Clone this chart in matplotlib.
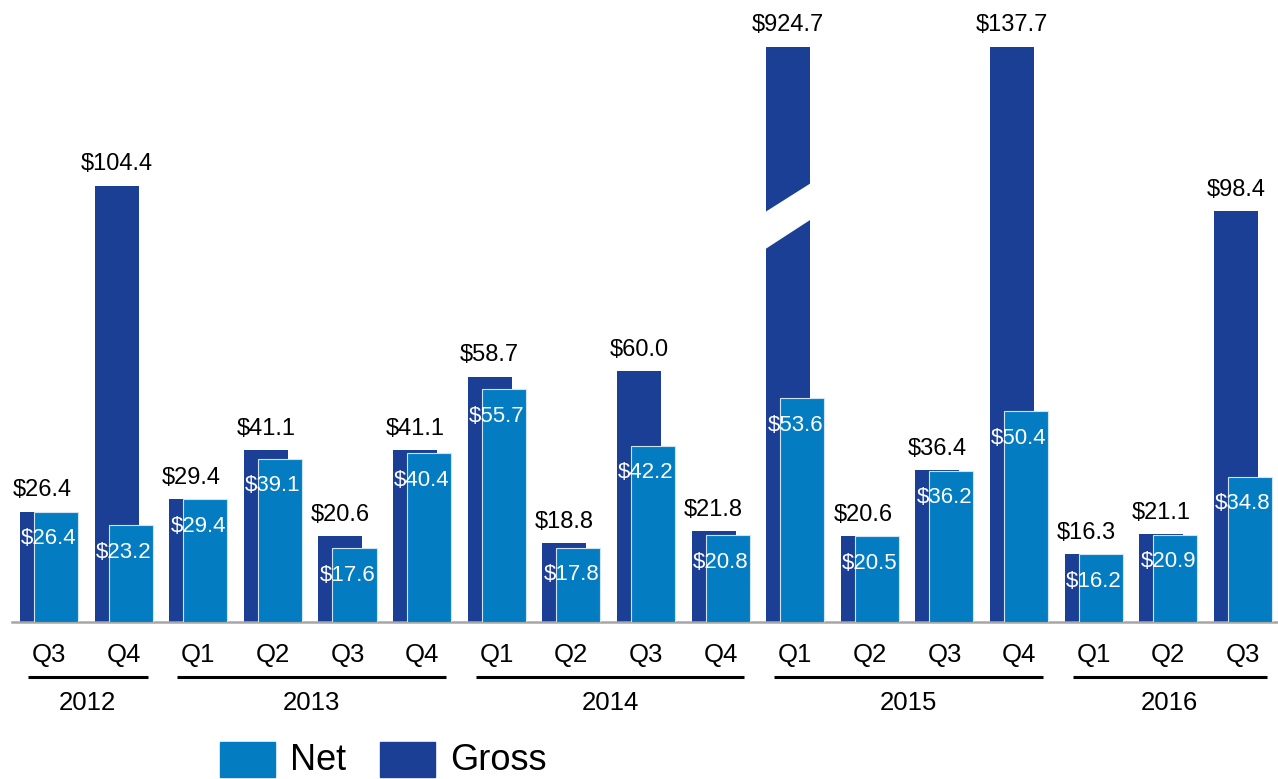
import matplotlib
matplotlib.use("Agg")
import matplotlib.pyplot as plt
from matplotlib.patches import Rectangle, Polygon
import numpy as np

plt.rcParams['font.family'] = ['Liberation Sans', 'DejaVu Sans']

# data
quarters = ['Q3', 'Q4', 'Q1', 'Q2', 'Q3', 'Q4', 'Q1', 'Q2', 'Q3', 'Q4',
            'Q1', 'Q2', 'Q3', 'Q4', 'Q1', 'Q2', 'Q3']
years = ['2012', '2013', '2014', '2015', '2016']
year_counts = [2, 4, 4, 4, 3]
gross = [26.4, 104.4, 29.4, 41.1, 20.6, 41.1, 58.7, 18.8, 60.0, 21.8,
         924.7, 20.6, 36.4, 137.7, 16.3, 21.1, 98.4]
net = [26.4, 23.2, 29.4, 39.1, 17.6, 40.4, 55.7, 17.8, 42.2, 20.8,
       53.6, 20.5, 36.2, 50.4, 16.2, 20.9, 34.8]

gross_col = '#1b3f94'
net_col = '#047cc2'
cap = 137.7   # bars above this are drawn broken

W, H = 1278, 779
fig = plt.figure(figsize=(W / 100, H / 100), dpi=100)
# baseline at y=622px, 4.18 px per unit
ax = fig.add_axes([12 / W, 1 - 622 / H, 1 - 12 / W, 585 / H])
ax.set_ylim(0, 140)
ax.set_xlim(-0.496, 16.47)

x = np.arange(len(quarters))
bw = 0.59
off = 0.094
gshow = [min(g, cap) for g in gross]

ax.bar(x - off, gshow, bw, color=gross_col, zorder=2)
ax.bar(x + off, net, bw, color=net_col, edgecolor='#cfe3f3', linewidth=0.8, zorder=3)

# break marks on the capped bars
for i, g in enumerate(gross):
    if g > cap:
        l, r = x[i] - off - bw / 2 - 0.05, x[i] - off + bw / 2 + 0.05
        ax.add_patch(Polygon([(l, 89.0), (r, 97.0), (r, 105.3), (l, 97.5)],
                             closed=True, color='white', zorder=4))

for i in range(len(x)):
    ax.annotate(f'${gross[i]:.1f}', (x[i] - off, gshow[i]), xytext=(0, 11),
                textcoords='offset points', ha='center', va='baseline',
                fontsize=17, color='black', zorder=5)
    ax.text(x[i], net[i] - 6.5, f'${net[i]:.1f}', ha='center', va='center',
            fontsize=16, color='white', zorder=5)

for s in ['top', 'right', 'left']:
    ax.spines[s].set_visible(False)
ax.spines['bottom'].set_color('#a6a6a6')
ax.spines['bottom'].set_linewidth(1.8)
ax.set_xticks([])
ax.set_yticks([])

tr = ax.get_xaxis_transform()
for i, q in enumerate(quarters):
    ax.text(x[i], -0.0564, q, transform=tr, ha='center', va='center',
            fontsize=18.5, clip_on=False)

start = 0
for yr, n in zip(years, year_counts):
    a, b = start - 0.28, start + n - 1 + 0.32
    ax.plot([a, b], [-0.094, -0.094], transform=tr, color='black', lw=2.2,
            clip_on=False, solid_capstyle='butt')
    ax.text((a + b) / 2, -0.1385, yr, transform=tr, ha='center', va='center',
            fontsize=18.5, clip_on=False)
    start += n

# legend
for (px, label, col) in [(220, 'Net', net_col), (380, 'Gross', gross_col)]:
    fig.add_artist(Rectangle((px / W, 1 - 777 / H), 55 / W, 35 / H,
                             transform=fig.transFigure, color=col))
    fig.text((px + 70) / W, 1 - 760 / H, label, ha='left', va='center',
             fontsize=26)

fig.savefig('out.png', dpi=100)
